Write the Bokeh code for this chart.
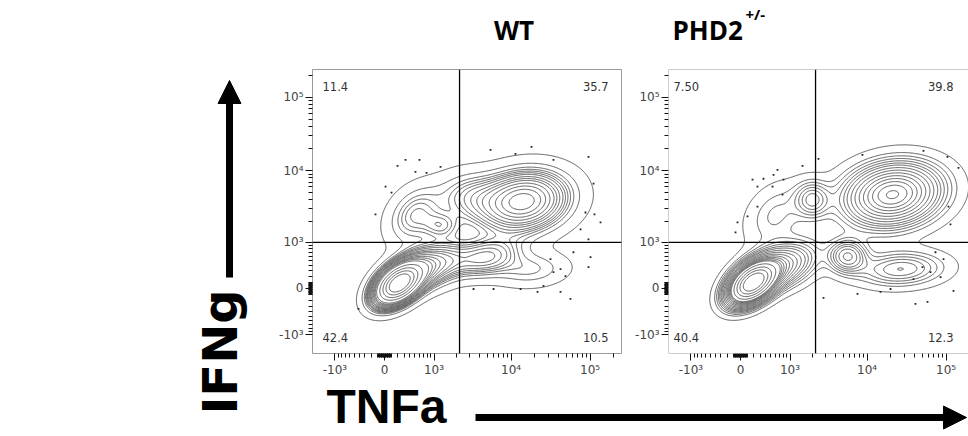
import numpy as np
from bokeh.plotting import figure
from bokeh.models import FixedTicker, Span, Label, Arrow, NormalHead
from bokeh.layouts import row, column
from bokeh.embed import file_html
from bokeh.resources import INLINE

# ---------------- data ----------------
BIEX_C = 500.0  # biexponential (arcsinh) width constant of the display scale


def biex(v):
    return np.arcsinh(np.asarray(v, dtype=float) / BIEX_C) / np.log(10)


major_tick_values = [-1000, 0, 1000, 10000, 100000]
major_tick_labels = ["-10³", "0", "10³", "10⁴", "10⁵"]
minor_tick_values = ([-k * 100 for k in range(1, 10)] + [-k * 10 for k in range(1, 10)]
                     + [k * 10 for k in range(1, 10)] + [k * 100 for k in range(1, 10)]
                     + [k * 1000 for k in range(2, 10)] + [k * 10000 for k in range(2, 10)]
                     + [200000])

tnfa_gate = 2200   # TNFa quadrant gate
ifng_gate = 1000   # IFNg quadrant gate

panel_titles = ["WT", "PHD2"]
panel_title_sup = ["", "+/-"]
x_axis_title = "TNFa"
y_axis_title = "IFNg"
quadrant_names = ["UL", "UR", "LL", "LR"]
wt_quadrant_pct = ["11.4", "35.7", "42.4", "10.5"]
phd2_quadrant_pct = ["7.50", "39.8", "40.4", "12.3"]

# populations (centres / spreads in biexponential display decades, weights = fraction of events)
wt_pop_x = [0.177, 0.55, 1.747, 0.39, 0.72, 1.05, 1.278, 1.85]
wt_pop_y = [0.061, 0.30, 1.182, 1.00, 0.85, 1.25, 0.426, 0.26]
wt_pop_sx = [0.18, 0.28, 0.36, 0.22, 0.15, 0.25, 0.28, 0.30]
wt_pop_sy = [0.17, 0.20, 0.26, 0.25, 0.12, 0.22, 0.17, 0.15]
wt_pop_rho = [0.45, 0.40, 0.15, 0.30, 0.0, 0.0, 0.30, 0.10]
wt_pop_w = [0.30, 0.12, 0.30, 0.055, 0.015, 0.045, 0.07, 0.03]

phd2_pop_x = [0.152, 0.50, 1.924, 0.45, 0.911, 1.354, 2.025]
phd2_pop_y = [0.074, 0.30, 1.277, 1.00, 1.209, 0.439, 0.264]
phd2_pop_sx = [0.18, 0.28, 0.37, 0.25, 0.14, 0.15, 0.35]
phd2_pop_sy = [0.17, 0.20, 0.26, 0.28, 0.16, 0.14, 0.15]
phd2_pop_rho = [0.45, 0.40, 0.15, 0.30, 0.0, 0.0, 0.10]
phd2_pop_w = [0.30, 0.11, 0.36, 0.035, 0.025, 0.035, 0.06]

# outlier events (display decades)
wt_dots_x = [1.342, 1.658, 1.861, 0.266, 0.443, 0.165, 0.532, 0.709, 0.392, 0.013, 0.089, -0.114,
             2.582, 2.139, 2.646, 2.544, 2.658, 2.734, 2.582, 2.481, 2.101, 2.228, 2.291, 2.139,
             2.392, 2.608, 2.582, 2.228, 2.354, 2.013, 1.937, 1.722, 1.380, 1.127, -0.329]
wt_dots_y = [1.885, 1.831, 1.926, 1.750, 1.750, 1.669, 1.574, 1.655, 1.588, 1.385, 1.304, 1.007,
             1.791, 1.750, 1.426, 1.034, 1.007, 0.899, 0.669, 0.804, 0.399, 0.264, 0.169, 0.223,
             0.493, 0.426, 0.291, -0.047, -0.142, 0.034, -0.047, -0.007, -0.007, -0.007, -0.277]
phd2_dots_x = [0.987, 0.785, 0.468, 0.418, 0.215, 0.291, 0.152, 0.405, 0.544, 0.532, 0.089, -0.038,
               -0.063, 0.215, 1.544, 2.316, 2.620, 2.759, 2.633, 2.658, 2.468, 2.570, 2.304, 2.405,
               2.532, 2.696, 2.215, 2.367, 1.899, 1.772, 1.481, 1.051, 2.190]
phd2_dots_y = [1.764, 1.669, 1.615, 1.547, 1.385, 1.493, 1.480, 1.385, 1.480, 1.277, 0.980, 0.899,
               0.764, 1.115, 1.818, 1.872, 1.791, 1.642, 1.115, 0.872, 0.493, 0.399, 0.291, 0.223,
               0.155, -0.034, -0.209, -0.182, -0.007, -0.047, -0.074, -0.128, 0.128]

# ---------------- layout constants (page pixels) ----------------
PAGE_W, PAGE_H = 968, 436
LEFT_W = 265            # column holding the IFNg label
TOP_H = 56              # row holding the panel titles
BOTTOM_H = 57           # row holding the TNFa label
MID_H = PAGE_H - TOP_H - BOTTOM_H
RIGHT_W = PAGE_W - LEFT_W

PX_PER_DEC_X = 79.0
PX_PER_DEC_Y = 74.0
MB_TOP, MB_BOTTOM = 13, 24
FRAME_H = MID_H - MB_TOP - MB_BOTTOM
Y_START = -0.885
Y_END = Y_START + FRAME_H / PX_PER_DEC_Y
X_START = -0.9114
LINE_COL = "#4d4d4d"
FRAME_COL = "#9a9a9a"


def mixture_density(X, Y, mx, my, sx, sy, rho, w):
    Z = np.zeros_like(X)
    for a, b, s1, s2, r, ww in zip(mx, my, sx, sy, rho, w):
        dx = (X - a) / s1
        dy = (Y - b) / s2
        q = (dx * dx - 2 * r * dx * dy + dy * dy) / (1 - r * r)
        Z += ww / (2 * np.pi * s1 * s2 * np.sqrt(1 - r * r)) * np.exp(-0.5 * q)
    return Z


def probability_levels(Z, outside_fracs):
    zf = np.sort(Z.ravel())[::-1]
    cum = np.cumsum(zf)
    cum /= cum[-1]
    lv = [float(zf[min(np.searchsorted(cum, 1 - f), len(zf) - 1)]) for f in outside_fracs]
    return sorted(set(lv))


def make_panel(width, mb_left, mb_right, pops, dots, full_outline=True):
    frame_w = width - mb_left - mb_right
    x_end = X_START + frame_w / PX_PER_DEC_X
    p = figure(width=width, height=MID_H, x_range=(X_START, x_end), y_range=(Y_START, Y_END),
               output_backend="svg", toolbar_location=None, min_border_left=mb_left,
               min_border_right=mb_right, min_border_top=MB_TOP, min_border_bottom=MB_BOTTOM,
               background_fill_color="white", border_fill_color="white")
    p.grid.visible = False
    if full_outline:
        p.outline_line_color = FRAME_COL
        p.outline_line_width = 1
    else:
        p.outline_line_color = None
        p.add_layout(Span(location=X_START, dimension="height", line_color=FRAME_COL, line_width=1))
        p.add_layout(Span(location=Y_START, dimension="width", line_color=FRAME_COL, line_width=1))
        p.add_layout(Span(location=Y_END, dimension="width", line_color=FRAME_COL, line_width=1))

    ticks = [float(t) for t in biex(major_tick_values)]
    minors = [float(t) for t in biex(minor_tick_values)]
    for ax in (p.xaxis[0], p.yaxis[0]):
        ax.ticker = FixedTicker(ticks=ticks, minor_ticks=minors)
        ax.major_label_overrides = {t: lab for t, lab in zip(ticks, major_tick_labels)}
        ax.axis_line_color = None
        ax.major_tick_out = 7
        ax.major_tick_in = 0
        ax.minor_tick_out = 4
        ax.minor_tick_in = 0
        ax.major_tick_line_color = "#111111"
        ax.minor_tick_line_color = "#111111"
        ax.major_label_text_font = "DejaVu Sans"
        ax.major_label_text_font_size = "12px"
        ax.major_label_text_color = "#444444"
        ax.major_label_standoff = 2
        ax.major_label_orientation = "horizontal"

    # density contours
    gx = np.linspace(-1.3, 3.3, 420)
    gy = np.linspace(-1.2, 3.2, 420)
    X, Y = np.meshgrid(gx, gy)
    Z = mixture_density(X, Y, *pops)
    levels = probability_levels(Z, np.arange(0.02, 0.95, 0.05))
    p.contour(x=gx, y=gy, z=Z, levels=levels, line_color=LINE_COL, line_width=0.9)

    p.scatter(x=dots[0], y=dots[1], marker="square", size=1.8, color="#222222", line_color=None)

    # quadrant gates
    p.add_layout(Span(location=float(biex(tnfa_gate)), dimension="height", line_color="black", line_width=1.3))
    p.add_layout(Span(location=float(biex(ifng_gate)), dimension="width", line_color="black", line_width=1.3))
    return p, x_end


def canvas(width, height, x0, y0):
    # blank figure whose data coordinates equal page pixels (y downward)
    c = figure(width=width, height=height, x_range=(x0, x0 + width), y_range=(y0 + height, y0),
               output_backend="svg", toolbar_location=None, min_border=0,
               x_axis_location=None, y_axis_location=None, outline_line_color=None,
               background_fill_color="white", border_fill_color="white")
    c.grid.visible = False
    return c


lab_kw = dict(text_font="DejaVu Sans", text_font_size="11.5px", text_color="#333333")

# ---- WT panel ----
W1, MBL1, MBR1 = 359, 47, 3
p1, x_end1 = make_panel(W1, MBL1, MBR1,
                        (wt_pop_x, wt_pop_y, wt_pop_sx, wt_pop_sy, wt_pop_rho, wt_pop_w),
                        (wt_dots_x, wt_dots_y))
q = dict(zip(quadrant_names, wt_quadrant_pct))
p1.add_layout(Label(x=X_START, y=Y_END, x_offset=10, y_offset=-12, text=q["UL"], text_baseline="top", **lab_kw))
p1.add_layout(Label(x=x_end1, y=Y_END, x_offset=-13, y_offset=-12, text=q["UR"], text_align="right", text_baseline="top", **lab_kw))
p1.add_layout(Label(x=X_START, y=Y_START, x_offset=10, y_offset=12, text=q["LL"], **lab_kw))
p1.add_layout(Label(x=x_end1, y=Y_START, x_offset=-13, y_offset=12, text=q["LR"], text_align="right", **lab_kw))

# ---- PHD2 panel ----
W2, MBL2, MBR2 = RIGHT_W - W1, 44, 0
p2, x_end2 = make_panel(W2, MBL2, MBR2,
                        (phd2_pop_x, phd2_pop_y, phd2_pop_sx, phd2_pop_sy, phd2_pop_rho, phd2_pop_w),
                        (phd2_dots_x, phd2_dots_y), full_outline=False)
q = dict(zip(quadrant_names, phd2_quadrant_pct))
x_right2 = X_START + 285 / PX_PER_DEC_X
p2.add_layout(Label(x=X_START, y=Y_END, x_offset=5, y_offset=-12, text=q["UL"], text_baseline="top", **lab_kw))
p2.add_layout(Label(x=x_right2, y=Y_END, y_offset=-12, text=q["UR"], text_align="right", text_baseline="top", **lab_kw))
p2.add_layout(Label(x=X_START, y=Y_START, x_offset=5, y_offset=12, text=q["LL"], **lab_kw))
p2.add_layout(Label(x=x_right2, y=Y_START, y_offset=12, text=q["LR"], text_align="right", **lab_kw))

big = dict(text_font="Liberation Sans", text_font_style="bold", text_color="black")
big_wide = dict(text_font="DejaVu Sans", text_font_style="bold", text_color="black")
ttl = dict(text_font="Open Sans", text_font_style="bold", text_color="black")

# ---- titles row ----
top = canvas(RIGHT_W, TOP_H, LEFT_W, 0)
top.add_layout(Label(x=513.5, y=47, text=panel_titles[0], text_align="center", text_font_size="26px", **ttl))
top.add_layout(Label(x=672, y=47, text=panel_titles[1], text_font_size="26px", **ttl))
top.add_layout(Label(x=745, y=23, text=panel_title_sup[1], text_font_size="15px", **ttl))

# ---- IFNg column ----
left = canvas(LEFT_W, PAGE_H, 0, 0)
left.add_layout(Label(x=247, y=414, text=y_axis_title, angle=np.pi / 2, text_font_size="48px", **big_wide))
left.add_layout(Arrow(x_start=229, y_start=277, x_end=229, y_end=100, end=None, line_width=7, line_color="black"))
left.add_layout(Arrow(x_start=229, y_start=110, x_end=229, y_end=80, line_alpha=0,
                      end=NormalHead(size=23, fill_color="black", line_color="black")))

# ---- TNFa row ----
bottom = canvas(RIGHT_W, BOTTOM_H, LEFT_W, PAGE_H - BOTTOM_H)
bottom.add_layout(Label(x=326, y=432, text=x_axis_title, text_font_size="48px", **big))
bottom.add_layout(Arrow(x_start=475, y_start=417, x_end=946, y_end=417, end=None, line_width=7, line_color="black"))
bottom.add_layout(Arrow(x_start=930, y_start=417, x_end=966, y_end=417, line_alpha=0,
                        end=NormalHead(size=23, fill_color="black", line_color="black")))

layout = row(left, column(top, row(p1, p2, spacing=0), bottom, spacing=0), spacing=0)
open("out.html", "w").write(file_html(layout, INLINE))
